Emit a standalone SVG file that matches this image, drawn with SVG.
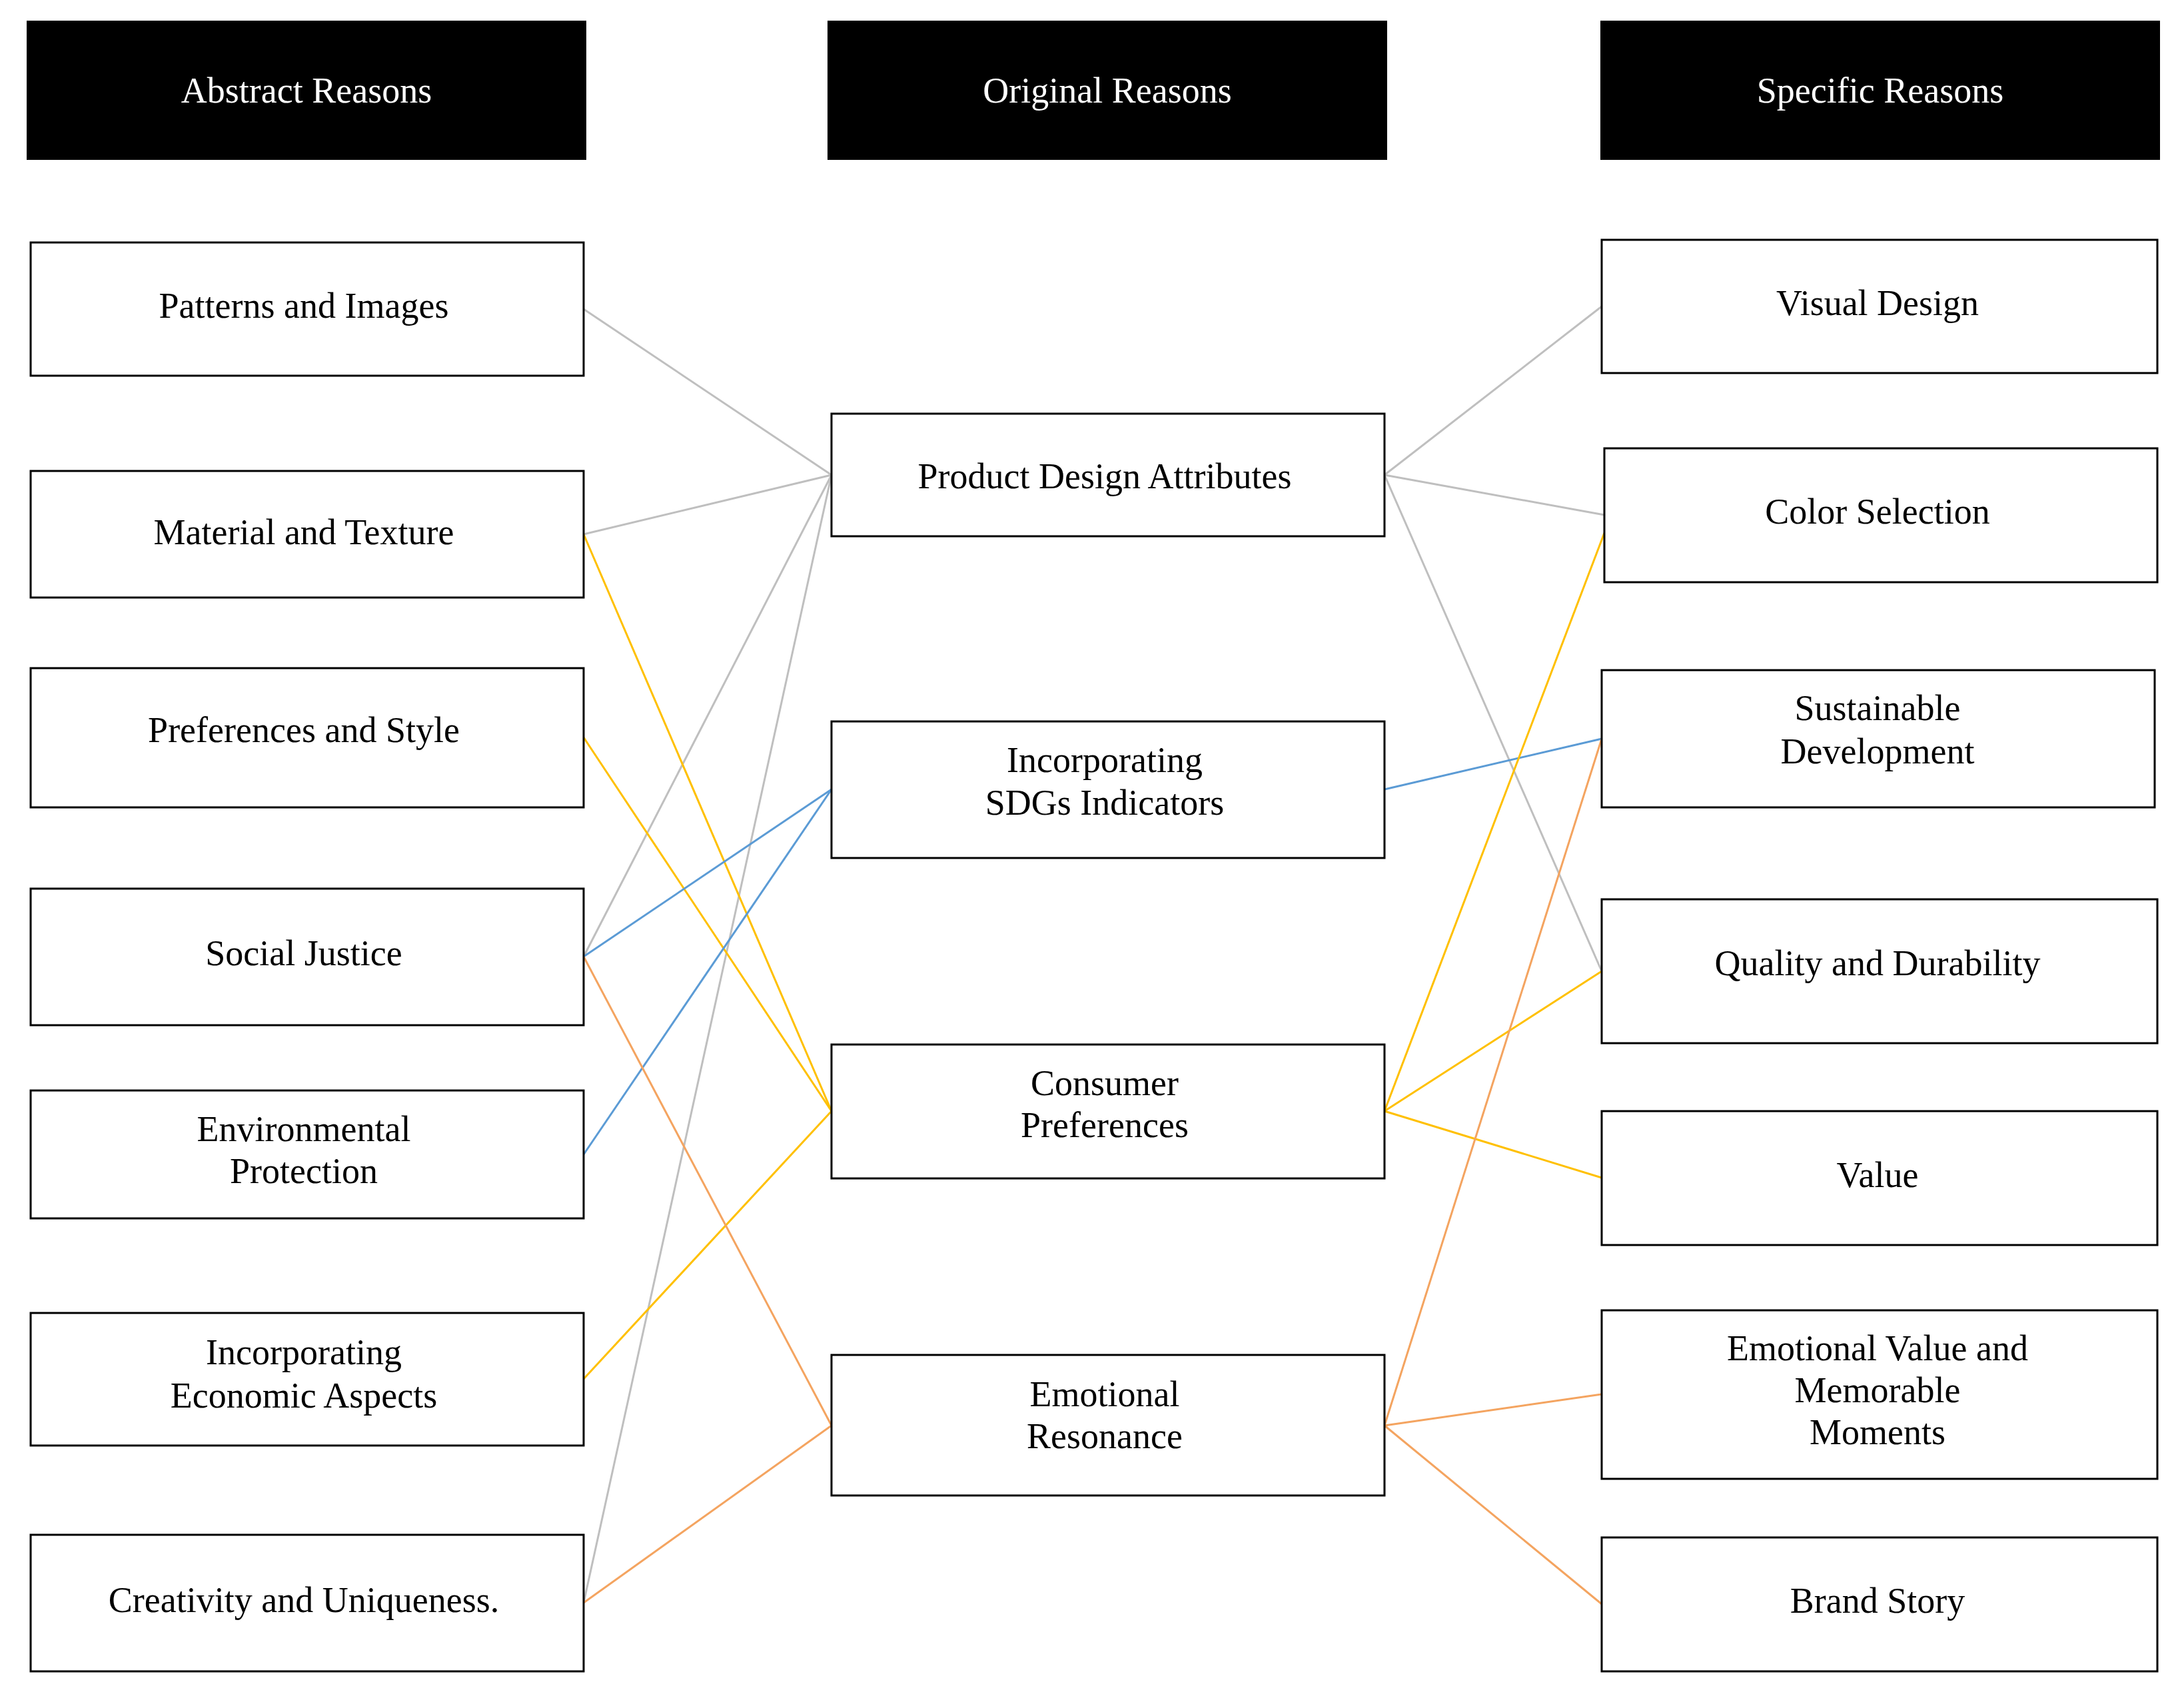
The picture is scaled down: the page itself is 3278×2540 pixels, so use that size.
<svg xmlns="http://www.w3.org/2000/svg" width="3278" height="2540" viewBox="0 0 3278 2540">
<style>
.h{fill:#000}
.b{fill:#fff;stroke:#000;stroke-width:3}
text{font-family:"Liberation Serif","Times New Roman",serif;font-size:54px;text-anchor:middle;dominant-baseline:central;fill:#000}
.ht{fill:#fff}
line{stroke-width:3}
.g{stroke:#bfbfbf}.y{stroke:#ffc000}.bl{stroke:#5b9bd5}.o{stroke:#f4a460}
</style>
<g id="connectors">
<line class="g" x1="876" y1="464" x2="1248" y2="713"/>
<line class="g" x1="876" y1="802" x2="1248" y2="713"/>
<line class="g" x1="876" y1="1436" x2="1248" y2="713"/>
<line class="g" x1="876" y1="2406" x2="1248" y2="713"/>
<line class="y" x1="876" y1="802" x2="1248" y2="1668"/>
<line class="y" x1="876" y1="1107" x2="1248" y2="1668"/>
<line class="y" x1="876" y1="2070" x2="1248" y2="1668"/>
<line class="bl" x1="876" y1="1436" x2="1248" y2="1185"/>
<line class="bl" x1="876" y1="1733" x2="1248" y2="1185"/>
<line class="o" x1="876" y1="1436" x2="1248" y2="2140"/>
<line class="o" x1="876" y1="2406" x2="1248" y2="2140"/>
<line class="g" x1="2078" y1="713" x2="2404" y2="460"/>
<line class="g" x1="2078" y1="713" x2="2408" y2="773"/>
<line class="g" x1="2078" y1="713" x2="2404" y2="1458"/>
<line class="bl" x1="2078" y1="1185" x2="2404" y2="1109"/>
<line class="y" x1="2078" y1="1668" x2="2408" y2="800"/>
<line class="y" x1="2078" y1="1668" x2="2404" y2="1458"/>
<line class="y" x1="2078" y1="1668" x2="2404" y2="1768"/>
<line class="o" x1="2078" y1="2140" x2="2404" y2="1109"/>
<line class="o" x1="2078" y1="2140" x2="2404" y2="2093"/>
<line class="o" x1="2078" y1="2140" x2="2404" y2="2408"/>
</g>
<g id="h1"><rect class="h" x="40" y="31" width="840" height="209"/><text class="ht" x="460" y="136">Abstract Reasons</text></g>
<g id="h2"><rect class="h" x="1242" y="31" width="840" height="209"/><text class="ht" x="1662" y="136">Original Reasons</text></g>
<g id="h3"><rect class="h" x="2402" y="31" width="840" height="209"/><text class="ht" x="2822" y="136">Specific Reasons</text></g>
<g id="l1"><rect class="b" x="46" y="364" width="830" height="200"/><text x="456" y="459">Patterns and Images</text></g>
<g id="l2"><rect class="b" x="46" y="707" width="830" height="190"/><text x="456" y="799">Material and Texture</text></g>
<g id="l3"><rect class="b" x="46" y="1003" width="830" height="209"/><text x="456" y="1096">Preferences and Style</text></g>
<g id="l4"><rect class="b" x="46" y="1334" width="830" height="205"/><text x="456" y="1431">Social Justice</text></g>
<g id="l5"><rect class="b" x="46" y="1637" width="830" height="192"/><text x="456" y="1695">Environmental</text><text x="456" y="1758">Protection</text></g>
<g id="l6"><rect class="b" x="46" y="1971" width="830" height="199"/><text x="456" y="2030">Incorporating</text><text x="456" y="2095">Economic Aspects</text></g>
<g id="l7"><rect class="b" x="46" y="2304" width="830" height="205"/><text x="456" y="2402">Creativity and Uniqueness.</text></g>
<g id="m1"><rect class="b" x="1248" y="621" width="830" height="184"/><text x="1658" y="715">Product Design Attributes</text></g>
<g id="m2"><rect class="b" x="1248" y="1083" width="830" height="205"/><text x="1658" y="1141">Incorporating</text><text x="1658" y="1205">SDGs Indicators</text></g>
<g id="m3"><rect class="b" x="1248" y="1568" width="830" height="201"/><text x="1658" y="1626">Consumer</text><text x="1658" y="1689">Preferences</text></g>
<g id="m4"><rect class="b" x="1248" y="2034" width="830" height="211"/><text x="1658" y="2093">Emotional</text><text x="1658" y="2156">Resonance</text></g>
<g id="r1"><rect class="b" x="2404" y="360" width="834" height="200"/><text x="2818" y="455">Visual Design</text></g>
<g id="r2"><rect class="b" x="2408" y="673" width="830" height="201"/><text x="2818" y="768">Color Selection</text></g>
<g id="r3"><rect class="b" x="2404" y="1006" width="830" height="206"/><text x="2818" y="1063">Sustainable</text><text x="2818" y="1128">Development</text></g>
<g id="r4"><rect class="b" x="2404" y="1350" width="834" height="216"/><text x="2818" y="1446">Quality and Durability</text></g>
<g id="r5"><rect class="b" x="2404" y="1668" width="834" height="201"/><text x="2818" y="1764">Value</text></g>
<g id="r6"><rect class="b" x="2404" y="1967" width="834" height="253"/><text x="2818" y="2024">Emotional Value and</text><text x="2818" y="2087">Memorable</text><text x="2818" y="2150">Moments</text></g>
<g id="r7"><rect class="b" x="2404" y="2308" width="834" height="201"/><text x="2818" y="2403">Brand Story</text></g>
</svg>
